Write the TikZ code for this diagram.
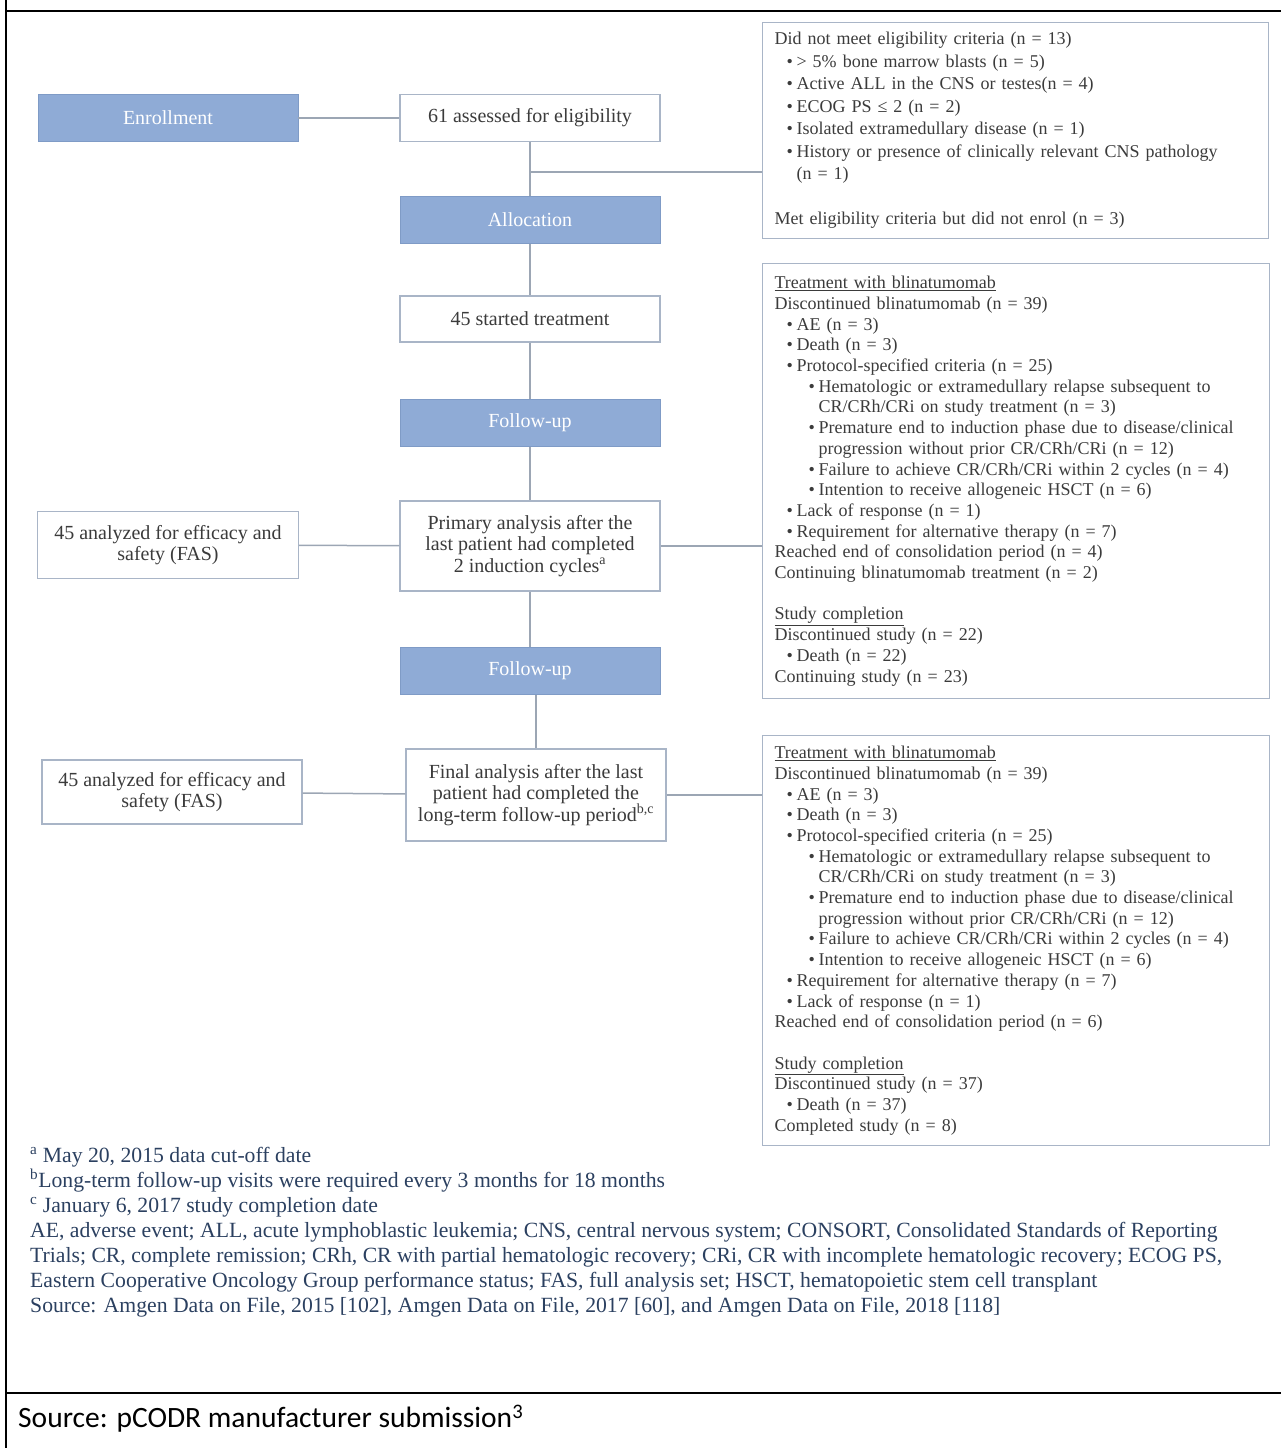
\documentclass[tikz,border=0pt]{standalone}
\usepackage{fontspec}
\setmainfont{Liberation Serif}
\newfontfamily\srcfont{Carlito}
\definecolor{phaseblue}{HTML}{8FABD6}
\definecolor{phaseedge}{HTML}{7F9BC6}
\definecolor{boxedge}{HTML}{A9B5C7}
\definecolor{linkgray}{HTML}{9CA6B4}
\definecolor{boxtext}{HTML}{3B3B3B}
\definecolor{notetext}{HTML}{2B4060}
\newcommand{\bulA}{\hspace*{12pt}\makebox[10pt][l]{\textbullet}}
\newcommand{\bulB}{\hspace*{34pt}\makebox[10pt][l]{\textbullet}}
\newcommand{\contB}{\hspace*{44pt}}
\tikzset{
  phase/.style={shape=rectangle,draw=phaseedge,fill=phaseblue,text=white,minimum width=260pt,minimum height=47pt,font=\fontsize{20}{21.5}\selectfont},
  stepbox/.style={shape=rectangle,draw=boxedge,line width=1.2pt,fill=white,text=boxtext,align=center,minimum width=260pt,font=\fontsize{20}{21.5}\selectfont},
  listbox/.style={shape=rectangle,draw=boxedge,line width=1.2pt,text=boxtext,align=left,anchor=north west,inner xsep=12pt,text width=483pt,font=\fontsize{18}{20.7}\selectfont},
  link/.style={draw=linkgray,line width=1.5pt}
}
\begin{document}
\begin{tikzpicture}[x=1pt,y=-1pt]
\useasboundingbox (0,0) rectangle (1281,1448);
\draw[line width=2pt] (6,0) -- (6,1448);
\draw[line width=2pt] (6,11) -- (1281,11);
\draw[line width=2.5pt] (6,1393) -- (1281,1393);
\node(enrol) at (168,118)[phase]{Enrollment};
\node(assess) at (530,118)[stepbox,minimum height=47pt]{61 assessed for eligibility};
\node(excl) at (762,22)[listbox,minimum height=216pt,text width=482pt,font=\fontsize{18}{22.5}\selectfont]{Did not meet eligibility criteria (n = 13)\\
\bulA \textgreater{} 5\% bone marrow blasts (n = 5)\\
\bulA Active ALL in the CNS or testes(n = 4)\\
\bulA ECOG PS ≤ 2 (n = 2)\\
\bulA Isolated extramedullary disease (n = 1)\\
\bulA History or presence of clinically relevant CNS pathology\\
\hspace*{22pt}(n = 1)\\[22.5pt]
Met eligibility criteria but did not enrol (n = 3)};
\coordinate(split) at (530,172);
\node(alloc) at (530,220)[phase]{Allocation};
\node(start) at (530,319)[stepbox,minimum height=46pt]{45 started treatment};
\node(fu1) at (530,423)[phase]{Follow-up};
\node(prim) at (530,546)[stepbox,minimum height=90pt]{Primary analysis after the\\last patient had completed\\2 induction cycles\textsuperscript{a}};
\node(fas1) at (168,545)[stepbox,minimum width=261pt,minimum height=67pt]{45 analyzed for efficacy and\\safety (FAS)};
\node(treat1) at (762,263)[listbox,minimum height=435pt]{\underline{Treatment with blinatumomab}\\
Discontinued blinatumomab (n = 39)\\
\bulA AE (n = 3)\\
\bulA Death (n = 3)\\
\bulA Protocol-specified criteria (n = 25)\\
\bulB Hematologic or extramedullary relapse subsequent to\\
\contB CR/CRh/CRi on study treatment (n = 3)\\
\bulB Premature end to induction phase due to disease/clinical\\
\contB progression without prior CR/CRh/CRi (n = 12)\\
\bulB Failure to achieve CR/CRh/CRi within 2 cycles (n = 4)\\
\bulB Intention to receive allogeneic HSCT (n = 6)\\
\bulA Lack of response (n = 1)\\
\bulA Requirement for alternative therapy (n = 7)\\
Reached end of consolidation period (n = 4)\\
Continuing blinatumomab treatment (n = 2)\\[20.7pt]
\underline{Study completion}\\
Discontinued study (n = 22)\\
\bulA Death (n = 22)\\
Continuing study (n = 23)};
\node(fu2) at (530,671)[phase]{Follow-up};
\node(final) at (536,795)[stepbox,minimum height=92pt]{Final analysis after the last\\patient had completed the\\long-term follow-up period\textsuperscript{b,c}};
\node(fas2) at (172,792)[stepbox,minimum height=64pt]{45 analyzed for efficacy and\\safety (FAS)};
\node(treat2) at (762,735)[listbox,minimum height=410pt]{\underline{Treatment with blinatumomab}\\
Discontinued blinatumomab (n = 39)\\
\bulA AE (n = 3)\\
\bulA Death (n = 3)\\
\bulA Protocol-specified criteria (n = 25)\\
\bulB Hematologic or extramedullary relapse subsequent to\\
\contB CR/CRh/CRi on study treatment (n = 3)\\
\bulB Premature end to induction phase due to disease/clinical\\
\contB progression without prior CR/CRh/CRi (n = 12)\\
\bulB Failure to achieve CR/CRh/CRi within 2 cycles (n = 4)\\
\bulB Intention to receive allogeneic HSCT (n = 6)\\
\bulA Requirement for alternative therapy (n = 7)\\
\bulA Lack of response (n = 1)\\
Reached end of consolidation period (n = 6)\\[20.7pt]
\underline{Study completion}\\
Discontinued study (n = 37)\\
\bulA Death (n = 37)\\
Completed study (n = 8)};
\path [link]
  (enrol)   edge (assess)
  (assess)  edge (alloc)
  (split)   edge (split -| excl.west)
  (alloc)   edge (start)
  (start)   edge (fu1)
  (fu1)     edge (prim)
  (fas1)    edge (prim)
  (prim)    edge (prim -| treat1.west)
  (prim)    edge (fu2)
  (final.north |- fu2.south) edge (final.north)
  (fas2)    edge (final)
  (final)   edge (final -| treat2.west);
\node(notes) at (30,1147)[anchor=north west,inner sep=0pt,align=left,text=notetext,font=\fontsize{21.7}{25}\selectfont]{\textsuperscript{a} May 20, 2015 data cut-off date\\
\textsuperscript{b}Long-term follow-up visits were required every 3 months for 18 months\\
\textsuperscript{c} January 6, 2017 study completion date\\
AE, adverse event; ALL, acute lymphoblastic leukemia; CNS, central nervous system; CONSORT, Consolidated Standards of Reporting\\
Trials; CR, complete remission; CRh, CR with partial hematologic recovery; CRi, CR with incomplete hematologic recovery; ECOG PS,\\
Eastern Cooperative Oncology Group performance status; FAS, full analysis set; HSCT, hematopoietic stem cell transplant\\
Source: Amgen Data on File, 2015 [102], Amgen Data on File, 2017 [60], and Amgen Data on File, 2018 [118]};
\node(source) at (18,1419)[anchor=west,inner sep=0pt,font=\srcfont\fontsize{29.5}{32}\selectfont]{Source: pCODR manufacturer submission\textsuperscript{3}};
\end{tikzpicture}
\end{document}
